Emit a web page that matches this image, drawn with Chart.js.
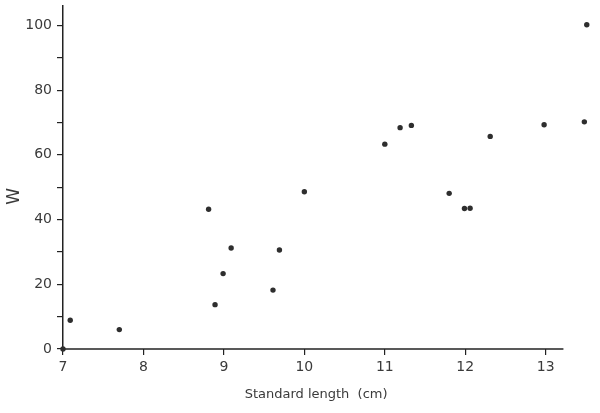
<!DOCTYPE html>
<html>
<head>
<meta charset="utf-8">
<script src="https://cdn.jsdelivr.net/npm/chart.js@4/dist/chart.umd.min.js"></script>
<style>
  html, body { margin: 0; padding: 0; background: #fff; }
  #wrap { width: 600px; height: 413px; }
</style>
</head>
<body>
<div id="wrap"><canvas id="myCanvas"></canvas></div>
<script>
'use strict';

// standard length (cm) and W
var lengths = [7.0, 7.09, 7.70, 8.81, 8.89, 8.99, 9.09, 9.61, 9.69, 10.0,
               11.0, 11.19, 11.33, 11.80, 11.99, 12.06, 12.31, 12.98, 13.48, 13.51];
var wValues = [0, 8.9, 6.0, 43.2, 13.7, 23.3, 31.2, 18.2, 30.6, 48.6,
               63.3, 68.4, 69.1, 48.1, 43.4, 43.5, 65.7, 69.3, 70.2, 100.2];

var xTicks = [7, 8, 9, 10, 11, 12, 13];
var yTicks = [0, 10, 20, 30, 40, 50, 60, 70, 80, 90, 100];
var yLabelled = [0, 20, 40, 60, 80, 100];
var xAxisEnd = 13.22;   // the drawn x axis stops short of the last points

var points = lengths.map(function(x, i) {
    return { x: x, y: wValues[i] };
});

var ink = '#3a3a3a';
var font = { family: 'DejaVu Sans', size: 14 };

// x axis line, only as long as in the original
var shortAxis = {
    id: 'shortAxis',
    beforeDatasetsDraw: function(chart) {
        var x = chart.scales.x, y = chart.scales.y;
        var c = chart.ctx;
        var py = y.getPixelForValue(0);
        c.save();
        c.strokeStyle = '#222';
        c.lineWidth = 1.5;
        c.beginPath();
        c.moveTo(x.getPixelForValue(7), py);
        c.lineTo(x.getPixelForValue(xAxisEnd), py);
        c.stroke();
        c.restore();
    }
};

var ctx = document.getElementById('myCanvas').getContext('2d');
var myCanvas = new Chart(ctx, {
    type: 'scatter',
    data: {
        datasets: [{
            data: points,
            backgroundColor: '#2e2e2e',
            borderColor: '#2e2e2e',
            pointRadius: 2.7,
            borderWidth: 0,
            clip: false
        }]
    },
    options: {
        responsive: true,
        maintainAspectRatio: false,
        animation: false,
        layout: { padding: { left: 0, top: 6, right: 6, bottom: 11 } },
        plugins: {
            legend: { display: false },
            tooltip: { enabled: false }
        },
        scales: {
            x: {
                type: 'linear',
                min: 7,
                max: 13.6,
                afterFit: function(scale) {
                    scale.height = 53;
                    scale.paddingLeft = 0;
                    scale.paddingRight = 0;
                },
                afterBuildTicks: function(scale) {
                    scale.ticks = xTicks.map(function(v) { return { value: v }; });
                },
                border: { display: false },
                grid: { drawOnChartArea: false, drawTicks: true, tickLength: 6, tickColor: '#222', lineWidth: 1.2 },
                ticks: { color: ink, font: font, padding: 4, maxRotation: 0 },
                title: {
                    display: true,
                    text: 'Standard length  (cm)      ',
                    color: ink,
                    font: { family: 'DejaVu Sans', size: 13 },
                    padding: { top: 4, bottom: 0 }
                }
            },
            y: {
                type: 'linear',
                min: 0,
                max: 106,
                afterFit: function(scale) {
                    scale.width = 63;
                    scale.paddingTop = 0;
                    scale.paddingBottom = 0;
                },
                afterBuildTicks: function(scale) {
                    scale.ticks = yTicks.map(function(v) { return { value: v }; });
                },
                border: { display: true, color: '#222', width: 1.5 },
                grid: { drawOnChartArea: false, drawTicks: true, tickLength: 6, tickColor: '#222', lineWidth: 1.2 },
                ticks: {
                    color: ink,
                    font: font,
                    padding: 5,
                    callback: function(v) {
                        return yLabelled.indexOf(v) >= 0 ? String(v) : '';
                    }
                },
                title: {
                    display: true,
                    text: 'W       ',
                    color: ink,
                    font: { family: 'DejaVu Sans', size: 17 },
                    padding: { top: 4, bottom: 0 }
                }
            }
        }
    },
    plugins: [shortAxis]
});
</script>
</body>
</html>
